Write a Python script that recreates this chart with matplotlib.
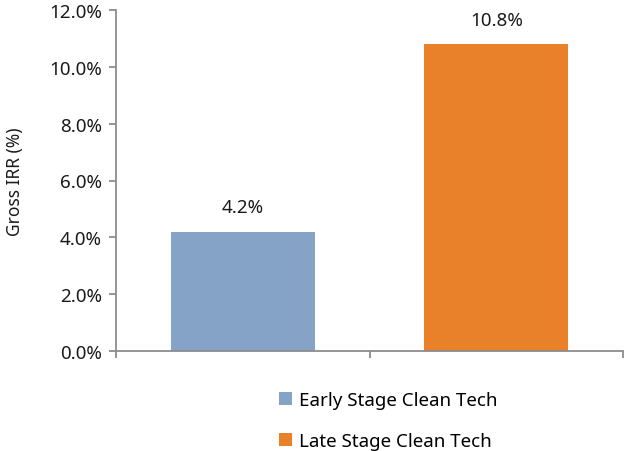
import matplotlib
matplotlib.use('Agg')
import matplotlib.pyplot as plt
from matplotlib.ticker import FuncFormatter
from matplotlib.patches import Patch

# DATA
categories = ['Early Stage Clean Tech', 'Late Stage Clean Tech']
irr_values = [4.2, 10.8]
colors = ['#84a3c6', '#e8812a']
y_ticks = [0, 2, 4, 6, 8, 10, 12]

plt.rcParams['font.family'] = ['Noto Sans', 'DejaVu Sans']
axis_gray = '#8c8c8c'
txt = '#1a1a1a'

fig = plt.figure(figsize=(6.24, 4.52), dpi=100)
ax = fig.add_axes([116 / 624, 1 - 352 / 452, (623 - 116) / 624, (352 - 11) / 452])

x = list(range(len(categories)))
bars = ax.bar(x, irr_values, width=0.57, color=colors)

for xi, v in zip(x, irr_values):
    ax.annotate(f'{v:.1f}%', (xi, v), xytext=(0, 11), textcoords='offset points',
                ha='center', va='bottom', fontsize=13.5, color=txt)

ax.set_xlim(-0.5, 1.5)
ax.set_ylim(0, 12)
ax.set_yticks(y_ticks)
ax.yaxis.set_major_formatter(FuncFormatter(lambda v, p: f'{v:.1f}%'))
ax.set_xticks([-0.5, 0.5, 1.5])
ax.set_xticklabels([])

for s in ['top', 'right']:
    ax.spines[s].set_visible(False)
for s in ['left', 'bottom']:
    ax.spines[s].set_color(axis_gray)
    ax.spines[s].set_linewidth(1.3)
ax.tick_params(axis='both', colors=axis_gray, length=5, width=1.3)
ax.tick_params(axis='y', labelcolor=txt, labelsize=13.5, pad=5)

ax.set_ylabel('Gross IRR (%)', fontsize=12.5, color=txt, labelpad=18)

handles = [Patch(facecolor=c, label=l) for c, l in zip(colors, categories)]
leg = fig.legend(handles=handles, loc='upper left', bbox_to_anchor=(279 / 624, 1 - 392 / 452),
                 frameon=False, fontsize=13.5, handlelength=0.7, handleheight=0.7,
                 handletextpad=0.35, labelspacing=1.25, borderaxespad=0, borderpad=0)

fig.savefig('out.png', dpi=100)
